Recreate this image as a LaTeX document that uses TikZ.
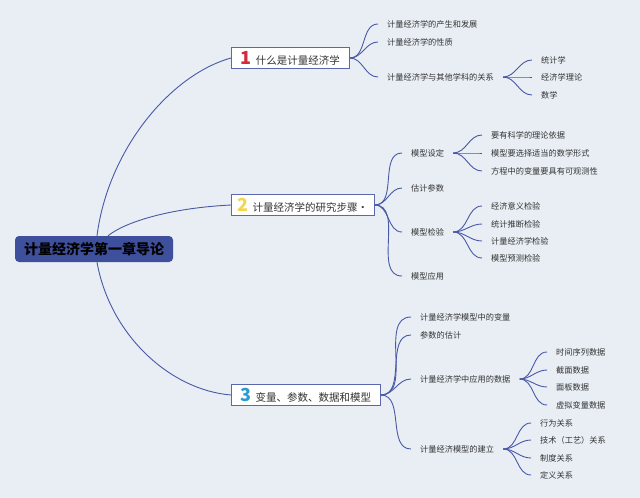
\documentclass[tikz,border=0pt]{standalone}
\usepackage{fontspec}
\setmainfont{Noto Sans CJK SC}
\definecolor{bg}{HTML}{E8EEF4}
\definecolor{ln}{HTML}{4A59A6}
\definecolor{bd}{HTML}{5B68AE}
\definecolor{rootc}{HTML}{3E4F9C}
\definecolor{txt}{HTML}{333333}
\definecolor{nA}{HTML}{D42A3C}
\definecolor{nB}{HTML}{F2D64B}
\definecolor{nC}{HTML}{2A9BD6}
\newcommand\topicnum[2]{{\color{#1}\bfseries\fontsize{18}{18}\selectfont #2}}
\tikzset{
  leaf/.style={anchor=west, inner xsep=9pt, inner ysep=1pt, font=\fontsize{8.2}{10}\selectfont, text=txt},
  topic/.style={draw=bd, fill=white, line width=0.8pt, inner xsep=0pt, inner ysep=0pt,
    minimum height=20.5pt, anchor=west, text=txt, font=\fontsize{10.5}{12}\selectfont},
  rootbox/.style={fill=rootc, rounded corners=4pt, minimum width=158pt, minimum height=26pt,
    inner sep=0pt, text=black, font=\bfseries\fontsize{14}{16}\selectfont},
  link/.style={draw=ln, line width=0.9pt}
}
\begin{document}
\begin{tikzpicture}[x=1pt,y=-1pt]
\useasboundingbox (0,0) rectangle (640,498);
\fill[bg] (0,0) rectangle (640,498);

% root
\node[rootbox] (root) at (94,249) {计量经济学第一章导论};

% main topics
\node[topic, minimum width=118pt] (b1) at (231,58) {\topicnum{nA}{1}\hspace{4pt}什么是计量经济学};
\node[topic, minimum width=143pt] (b2) at (231,205) {\topicnum{nB}{2}\hspace{4pt}计量经济学的研究步骤·};
\node[topic, minimum width=149pt] (b3) at (231,395) {\topicnum{nC}{3}\hspace{4pt}变量、参数、数据和模型};

\draw[link] ([xshift=3pt]root.north) .. controls (108,150) and (170,75) .. (b1.west);
\draw[link] ([xshift=14pt]root.north) .. controls (125,222) and (170,208) .. (b2.west);
\draw[link] ([xshift=3pt]root.south) .. controls (110,335) and (170,390) .. (b3.west);

% branch 1
\node[leaf] (a1) at (378,24) {计量经济学的产生和发展};
\node[leaf] (a2) at (378,42) {计量经济学的性质};
\node[leaf] (a3) at (378,77) {计量经济学与其他学科的关系};
\node[leaf] (a31) at (532,60) {统计学};
\node[leaf] (a32) at (532,77) {经济学理论};
\node[leaf] (a33) at (532,95) {数学};
\foreach \c in {a1,a2,a3} \draw[link] (b1.east) to[out=0,in=180] (\c.west);
\foreach \c in {a31,a32,a33} \draw[link] (a3.east) to[out=0,in=180] (\c.west);

% branch 2
\node[leaf] (m1) at (402,153) {模型设定};
\node[leaf] (m2) at (402,188) {估计参数};
\node[leaf] (m3) at (402,232) {模型检验};
\node[leaf] (m4) at (402,276) {模型应用};
\node[leaf] (m11) at (482,135) {要有科学的理论依据};
\node[leaf] (m12) at (482,153) {模型要选择适当的数学形式};
\node[leaf] (m13) at (482,171) {方程中的变量要具有可观测性};
\node[leaf] (m31) at (482,206) {经济意义检验};
\node[leaf] (m32) at (482,224) {统计推断检验};
\node[leaf] (m33) at (482,241) {计量经济学检验};
\node[leaf] (m34) at (482,258) {模型预测检验};
\foreach \c in {m1,m2,m3,m4} \draw[link] (b2.east) to[out=0,in=180] (\c.west);
\foreach \c in {m11,m12,m13} \draw[link] (m1.east) to[out=0,in=180] (\c.west);
\foreach \c in {m31,m32,m33,m34} \draw[link] (m3.east) to[out=0,in=180] (\c.west);

% branch 3
\node[leaf] (v1) at (411,317) {计量经济学模型中的变量};
\node[leaf] (v2) at (411,335) {参数的估计};
\node[leaf] (v3) at (411,379) {计量经济学中应用的数据};
\node[leaf] (v4) at (411,449) {计量经济模型的建立};
\node[leaf] (v31) at (547,352) {时间序列数据};
\node[leaf] (v32) at (547,370) {截面数据};
\node[leaf] (v33) at (547,387) {面板数据};
\node[leaf] (v34) at (547,405) {虚拟变量数据};
\node[leaf] (v41) at (531,423) {行为关系};
\node[leaf] (v42) at (531,440) {技术（工艺）关系};
\node[leaf] (v43) at (531,458) {制度关系};
\node[leaf] (v44) at (531,475) {定义关系};
\foreach \c in {v1,v2,v3,v4} \draw[link] (b3.east) to[out=0,in=180] (\c.west);
\foreach \c in {v31,v32,v33,v34} \draw[link] (v3.east) to[out=0,in=180] (\c.west);
\foreach \c in {v41,v42,v43,v44} \draw[link] (v4.east) to[out=0,in=180] (\c.west);
\end{tikzpicture}
\end{document}
